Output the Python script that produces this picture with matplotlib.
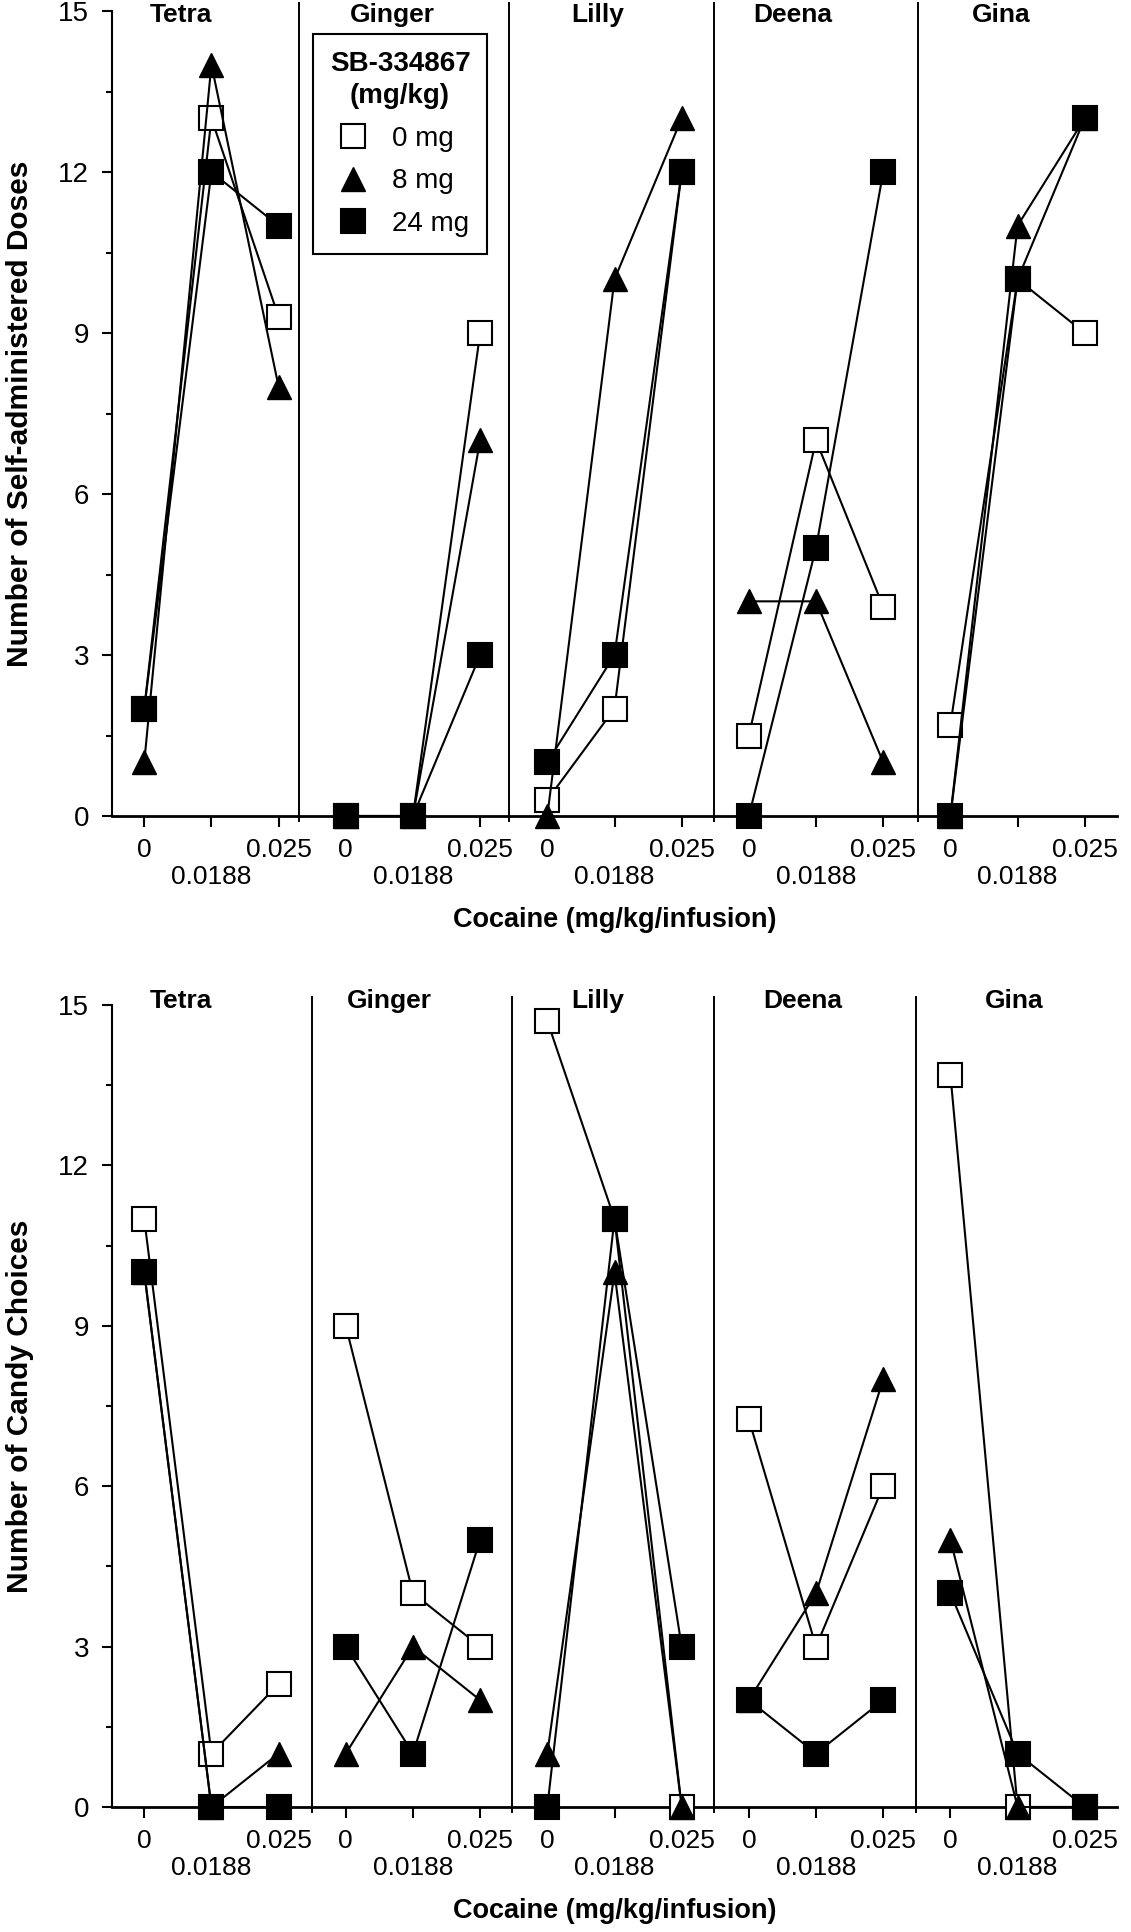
import matplotlib
matplotlib.use("Agg")
import matplotlib.pyplot as plt
from matplotlib.lines import Line2D
from matplotlib.ticker import MultipleLocator

plt.rcParams["font.family"] = ["Liberation Sans", "DejaVu Sans"]

# ---- data ----
subjects = ["Tetra", "Ginger", "Lilly", "Deena", "Gina"]
dose_labels = ["0 mg", "8 mg", "24 mg"]
cocaine_labels = ["0", "0.0188", "0.025"]

# one value per subject x cocaine dose (Tetra, Ginger, Lilly, Deena, Gina)
doses_0mg = [2, 13, 9.3, 0, 0, 9, 0.3, 2, 12, 1.5, 7, 3.9, 1.7, 10, 9]
doses_8mg = [1, 14, 8, 0, 0, 7, 0, 10, 13, 4, 4, 1, 0, 11, 13]
doses_24mg = [2, 12, 11, 0, 0, 3, 1, 3, 12, 0, 5, 12, 0, 10, 13]

candy_0mg = [11, 1, 2.3, 9, 4, 3, 14.7, 11, 0, 7.25, 3, 6, 13.7, 0, 0]
candy_8mg = [10, 0, 1, 1, 3, 2, 1, 10, 0, 2, 4, 8, 5, 0, 0]
candy_24mg = [10, 0, 0, 3, 1, 5, 0, 11, 3, 2, 1, 2, 4, 1, 0]

# ---- styling ----
styles = [
    dict(marker="s", mfc="white", mec="black", ms=17, mew=1.5),
    dict(marker="^", mfc="black", mec="black", ms=17, mew=1.0),
    dict(marker="s", mfc="black", mec="black", ms=17, mew=1.5),
]


def draw_panel(ax, series, seps, title_x, title_y, ylabel_text):
    for vals, st in zip(series, styles):
        for g in range(len(subjects)):
            xs = [3 * g, 3 * g + 1, 3 * g + 2]
            ax.plot(xs, vals[3 * g:3 * g + 3], color="black", lw=1.5,
                    clip_on=False, zorder=3, **st)
    for s in seps:
        ax.plot([s, s], [-0.1, 15.15], color="black", lw=1.4,
                clip_on=False, zorder=2)
    for name, tx in zip(subjects, title_x):
        ax.text(tx, title_y, name, ha="center", va="top", fontsize=19,
                fontweight="bold", clip_on=False)

    ax.set_xlim(-0.48, 14.48)
    ax.set_ylim(0, 15)
    ax.spines["top"].set_visible(False)
    ax.spines["right"].set_visible(False)
    ax.spines["left"].set_linewidth(1.5)
    ax.spines["bottom"].set_linewidth(2.0)

    ax.yaxis.set_major_locator(MultipleLocator(3))
    ax.yaxis.set_minor_locator(MultipleLocator(1.5))
    ax.tick_params(axis="y", which="major", length=7.5, width=1.5,
                   labelsize=20, pad=9)
    ax.tick_params(axis="y", which="minor", length=4.5, width=1.5)

    major = [3 * g + k for g in range(5) for k in (0, 2)]
    minor = [3 * g + 1 for g in range(5)]
    ax.set_xticks(major)
    ax.set_xticklabels([cocaine_labels[k] for g in range(5) for k in (0, 2)])
    ax.set_xticks(minor, minor=True)
    ax.set_xticklabels([cocaine_labels[1]] * 5, minor=True)
    ax.tick_params(axis="x", which="major", length=8, width=1.5,
                   labelsize=19, pad=8)
    ax.tick_params(axis="x", which="minor", length=8, width=1.5,
                   labelsize=19, pad=27)

    pos = ax.get_position()
    fig.text(20 / 1131, (pos.y0 + pos.y1) / 2, ylabel_text, rotation=90,
             ha="center", va="center", fontsize=21.5, fontweight="bold")
    fig.text((pos.x0 + pos.x1) / 2, pos.y0 - 104 / 1932,
             "Cocaine (mg/kg/infusion)", ha="center", va="center",
             fontsize=19.5, fontweight="bold")


fig = plt.figure(figsize=(11.31, 19.32), dpi=100)
W, H = 1131, 1932
ax_top = fig.add_axes([112 / W, 1 - 816 / H, 1005 / W, 805 / H])
ax_bot = fig.add_axes([112 / W, 1 - 1807 / H, 1005 / W, 802 / H])

draw_panel(ax_top, [doses_0mg, doses_8mg, doses_24mg],
           [2.31, 5.43, 8.48, 11.52], [0.55, 3.7, 6.75, 9.65, 12.75], 15.15,
           "Number of Self-administered Doses")
draw_panel(ax_bot, [candy_0mg, candy_8mg, candy_24mg],
           [2.5, 5.48, 8.48, 11.49], [0.55, 3.65, 6.75, 9.8, 12.95], 15.3,
           "Number of Candy Choices")

handles = [Line2D([], [], ls="none", color="black", **st) for st in styles]
leg = ax_top.legend(handles, dose_labels, title="SB-334867\n(mg/kg)",
                    loc="upper left", bbox_to_anchor=(0.2, 0.971),
                    borderaxespad=0, fontsize=20, fancybox=False,
                    edgecolor="black", framealpha=1, borderpad=0.6,
                    handlelength=1.6, handletextpad=0.6, labelspacing=0.6)
leg.get_frame().set_linewidth(1.5)
leg.get_title().set_fontweight("bold")
leg.get_title().set_fontsize(20)
leg.get_title().set_linespacing(1.3)
leg.get_title().set_multialignment("center")
leg.set_zorder(5)

fig.savefig("out.png", dpi=100)
